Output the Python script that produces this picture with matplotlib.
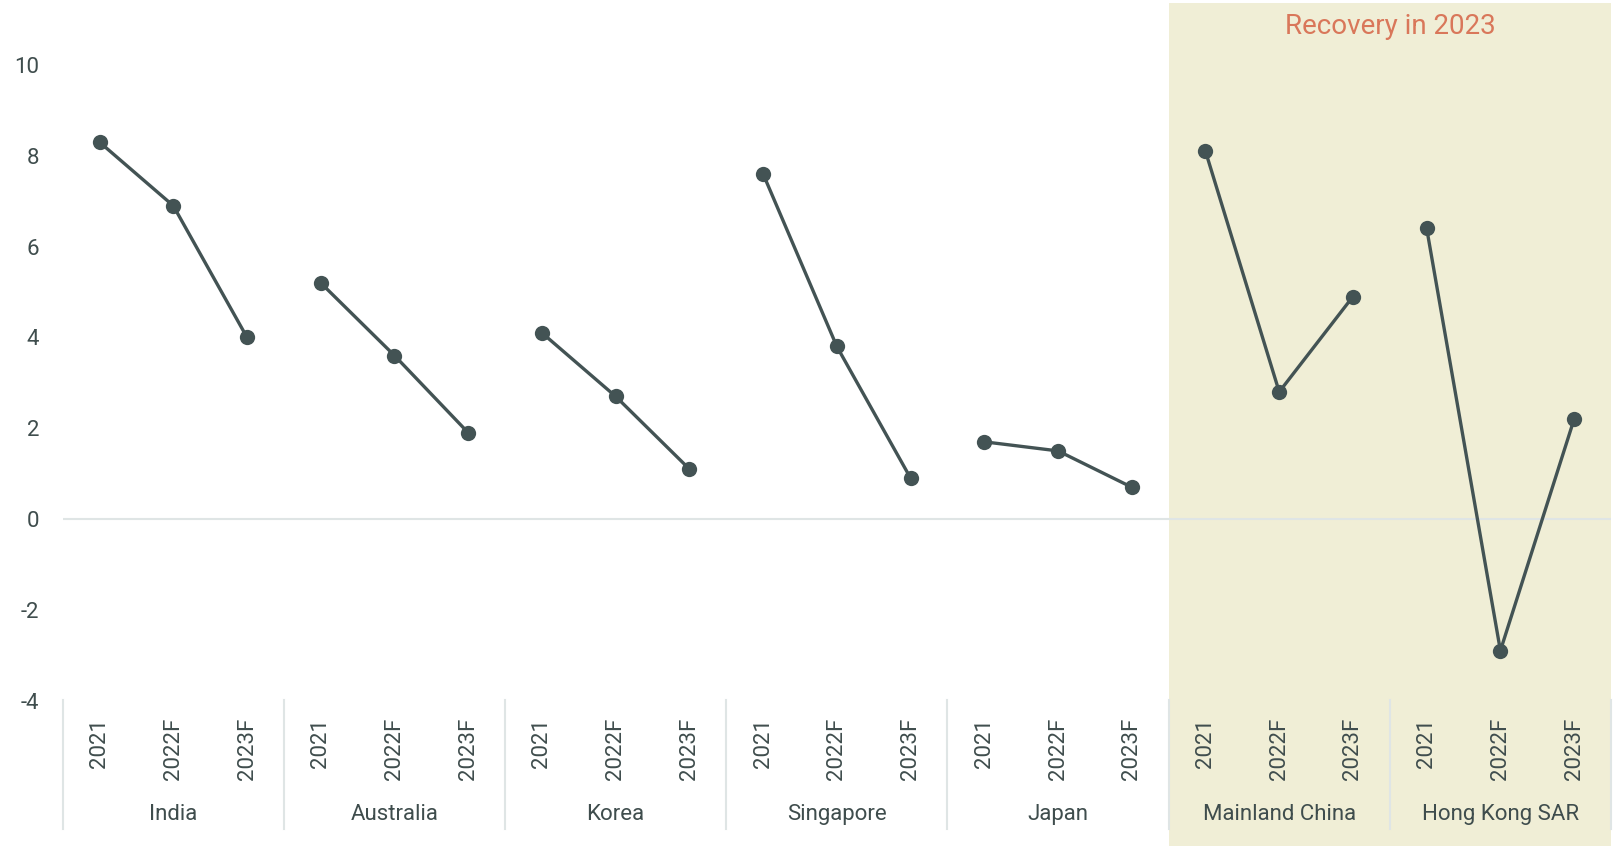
import matplotlib
matplotlib.use("Agg")
import matplotlib.pyplot as plt
from matplotlib.patches import Rectangle
from matplotlib.transforms import blended_transform_factory

plt.rcParams["font.family"] = ["Roboto", "DejaVu Sans"]
plt.rcParams["axes.unicode_minus"] = False

# Real GDP growth (%) by economy
countries = ["India", "Australia", "Korea", "Singapore", "Japan",
             "Mainland China", "Hong Kong SAR"]
years = ["2021", "2022F", "2023F"]
india = [8.3, 6.9, 4.0]
australia = [5.2, 3.6, 1.9]
korea = [4.1, 2.7, 1.1]
singapore = [7.6, 3.8, 0.9]
japan = [1.7, 1.5, 0.7]
mainland_china = [8.1, 2.8, 4.9]
hong_kong = [6.4, -2.9, 2.2]
series = [india, australia, korea, singapore, japan, mainland_china, hong_kong]
yticks = [-4, -2, 0, 2, 4, 6, 8, 10]
highlight_title = "Recovery in 2023"
highlight_groups = ["Mainland China", "Hong Kong SAR"]

LINE = "#435354"
TEXT = "#3f4d4d"
SHADE = "#f0eed6"
GRID = "#dfe5e5"
ACCENT = "#d9775a"

W, H = 1617, 846
fig = plt.figure(figsize=(W / 100, H / 100), dpi=100)
ax_left, ax_right, ax_top, ax_bot = 62.7, 1611, 3, 700.6
ax = fig.add_axes([ax_left / W, 1 - ax_bot / H,
                   (ax_right - ax_left) / W, (ax_bot - ax_top) / H])
ax_h = ax_bot - ax_top

def afrac(px):
    """Axes-fraction y of a figure pixel row."""
    return (ax_bot - px) / ax_h

n_years = len(years)
n_cat = len(countries) * n_years
ax.set_xlim(-0.5, n_cat - 0.5)
ymin = -4
ymax = ymin + ax_h / 45.4
ax.set_ylim(ymin, ymax)

trans = blended_transform_factory(ax.transData, ax.transAxes)

# Highlighted band
first = countries.index(highlight_groups[0]) * n_years - 0.5
last = (countries.index(highlight_groups[-1]) + 1) * n_years - 0.5
ax.add_patch(Rectangle((first, afrac(H)), last - first, 1 - afrac(H),
                       transform=trans, facecolor=SHADE, edgecolor="none",
                       clip_on=False, zorder=0))
ax.text((first + last) / 2, afrac(26), highlight_title, transform=trans,
        ha="center", va="center", fontsize=20, color=ACCENT)

# Zero line
ax.axhline(0, color=GRID, lw=1.5, zorder=1)

# Series
for g, vals in enumerate(series):
    xs = [g * n_years + k for k in range(n_years)]
    ax.plot(xs, vals, color=LINE, lw=2.4, marker="o", markersize=11,
            markeredgewidth=0, zorder=3, solid_capstyle="round")

# Category axis: years, group names, separators
for g, name in enumerate(countries):
    for k, yr in enumerate(years):
        ax.text(g * n_years + k, afrac(718), yr, transform=trans,
                rotation=90, ha="center", va="top", fontsize=16, color=TEXT)
    ax.text(g * n_years + 1, afrac(814), name, transform=trans,
            ha="center", va="center", fontsize=16, color=TEXT)
for b in range(len(countries) + 1):
    xb = b * n_years - 0.5
    ax.plot([xb, xb], [afrac(700), afrac(829)], transform=trans,
            color=GRID, lw=1.5, clip_on=False, zorder=2)

ax.set_yticks(yticks)
ax.set_yticklabels([str(t) for t in yticks])
ax.tick_params(axis="y", length=0, pad=17, labelsize=16, labelcolor=TEXT)
ax.set_xticks([])
for s in ax.spines.values():
    s.set_visible(False)
ax.patch.set_alpha(0)

fig.savefig("out.png", dpi=100, facecolor="white")
